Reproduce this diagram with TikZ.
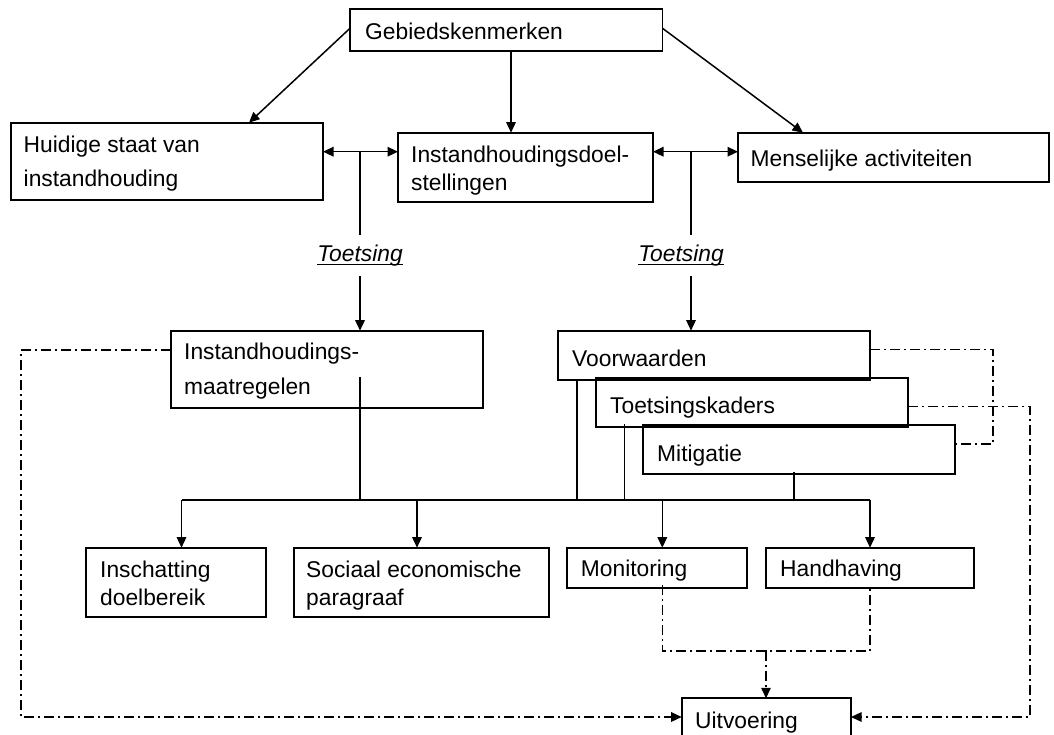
\documentclass[tikz,border=0pt]{standalone}
\usepackage{fontspec}
\setmainfont{Liberation Sans}
\usetikzlibrary{arrows.meta}
\newcommand\myul[1]{\setbox0\hbox{#1}\rlap{\rule[-3.6pt]{\wd0}{1.3pt}}\box0}
\begin{document}
\begin{tikzpicture}[x=1pt,y=-1pt,
  box/.style={draw, line width=1.9pt, inner sep=0pt, outer sep=0pt, anchor=north west},
  txt/.style={anchor=base west, inner sep=0pt, font=\fontsize{22.8pt}{27pt}\selectfont},
  ttxt/.style={inner sep=0pt, minimum height=40.3pt, font=\fontsize{22.8pt}{27pt}\selectfont\itshape},
  tip/.tip={Triangle[length=10.5pt,width=9.5pt]},
  conn/.style={line width=1.5pt},
  arr/.style={conn, -tip},
  dbl/.style={conn, tip-tip},
  dd/.style={line width=1.3pt, dash pattern=on 10pt off 4pt on 2pt off 4pt}
]
\useasboundingbox (0,0) rectangle (1054,735);
\clip (0,0) rectangle (1054,735);
\fill[white] (0,0) rectangle (1054,735);

% boxes
\node[box, minimum width=312.5pt, minimum height=41.7pt] (geb) at (350,9.3) {};
\node[txt] (gebT) at (365,39.3) {Gebiedskenmerken};

\node[box, minimum width=312pt, minimum height=77.3pt] (huid) at (11,122.7) {};
\node[txt] (huidT1) at (23.5,152.7) {Huidige staat van};
\node[txt] (huidT2) at (23.5,186.7) {instandhouding};

\node[box, minimum width=255pt, minimum height=69pt] (doel) at (398,132.7) {};
\node[txt] (doelT1) at (411,162.7) {Instandhoudingsdoel-};
\node[txt] (doelT2) at (411,190.7) {stellingen};

\node[box, minimum width=311pt, minimum height=49pt] (men) at (738,132.7) {};
\node[txt] (menT) at (750.5,166.7) {Menselijke activiteiten};

\node[ttxt] (t1) at (360,255.85) {\myul{Toetsing}};
\node[ttxt] (t2) at (681,255.85) {\myul{Toetsing}};

\node[box, minimum width=312pt, minimum height=77pt] (maatr) at (171,330.7) {};
\node[txt] (maatrT1) at (184,359.3) {Instandhoudings-};
\node[txt] (maatrT2) at (184,394.3) {maatregelen};

\node[box, minimum width=312pt, minimum height=49.3pt] (voor) at (558,330.7) {};
\node[txt] (voorT) at (572,366.7) {Voorwaarden};

\node[box, minimum width=312pt, minimum height=49pt] (tk) at (596,377.7) {};
\node[txt] (tkT) at (610,413.3) {Toetsingskaders};

\node[box, minimum width=312pt, minimum height=49pt] (mit) at (643,425) {};
\node[txt] (mitT) at (657,461) {Mitigatie};

\node[box, minimum width=179.6pt, minimum height=69pt] (insch) at (86.4,547.7) {};
\node[txt] (inschT1) at (100,577.5) {Inschatting};
\node[txt] (inschT2) at (100,605) {doelbereik};

\node[box, minimum width=255pt, minimum height=69pt] (soc) at (293.6,547.7) {};
\node[txt] (socT1) at (306,577.5) {Sociaal economische};
\node[txt] (socT2) at (306,605) {paragraaf};

\node[box, minimum width=180pt, minimum height=40.6pt] (mon) at (567.3,547.7) {};
\node[txt] (monT) at (580.7,576.7) {Monitoring};

\node[box, minimum width=208.3pt, minimum height=40.6pt] (hand) at (765.7,547.7) {};
\node[txt] (handT) at (780,576.7) {Handhaving};

\node[box, minimum width=169.3pt, minimum height=60pt] (uitv) at (681.7,698.3) {};
\node[txt] (uitvT) at (695,728.3) {Uitvoering};

% coordinates
\coordinate (j1) at (360,151.7);
\coordinate (j2) at (691,151.7);
\coordinate (m1) at (360,377.3);
\coordinate (busL) at (181.5,500);
\coordinate (b2) at (417,500);
\coordinate (b3) at (662.3,500);
\coordinate (busR) at (870,500);
\coordinate (v1) at (577,380);
\coordinate (k1) at (624.5,424);
\coordinate (mi1) at (794,471.7);
\coordinate (cL) at (21,717);
\coordinate (cR1) at (993,444);
\coordinate (cR2) at (1030,717);
\coordinate (d1) at (662.3,585);
\coordinate (d2) at (870,585);
\coordinate (dm) at (766,651);

% top connectors
\draw[arr] ([yshift=-19pt]geb.north west) -- ([xshift=238pt]huid.north west);
\draw[arr] ([xshift=161pt]geb.south west) -- ([xshift=113pt]doel.north west);
\draw[arr] ([yshift=-19pt]geb.north east) -- ([xshift=65pt]men.north west);
\draw[dbl] ([yshift=-29pt]huid.north east) -- ([yshift=-19pt]doel.north west);
\draw[dbl] ([yshift=-19pt]doel.north east) -- ([yshift=-19pt]men.north west);

% Toetsing branches
\draw[conn] (j1) -- (j1 |- t1.north);
\draw[arr] (j1 |- t1.south) -- (j1 |- maatr.north);
\draw[conn] (j2) -- (j2 |- t2.north);
\draw[arr] (j2 |- t2.south) -- (j2 |- voor.north);

% bus
\draw[conn] (m1) -- (m1 |- busL);
\draw[conn] (busL) -- (busR);
\draw[conn] (v1) -- (v1 |- busL);
\draw[conn] (k1) -- (k1 |- busL);
\draw[conn] (mi1) -- (mi1 |- busL);
\draw[arr] (busL) -- (busL |- insch.north);
\draw[arr] (b2) -- (b2 |- soc.north);
\draw[arr] (b3) -- (b3 |- mon.north);
\draw[arr] (busR) -- (busR |- hand.north);

% dash-dot connectors
\draw[dd, -tip] ([yshift=-19.3pt]maatr.north west) -| (cL) -- (cL -| uitv.west);
\draw[dd] ([yshift=-18.6pt]voor.north east) -| (cR1) -- (cR1 -| mit.east);
\draw[dd, -tip] ([yshift=-29pt]tk.north east) -| (cR2) -- (cR2 -| uitv.east);
\draw[dd] (d1) |- (dm) -| (d2);
\draw[dd, -tip] (dm) -- (dm |- uitv.north);
\end{tikzpicture}
\end{document}
